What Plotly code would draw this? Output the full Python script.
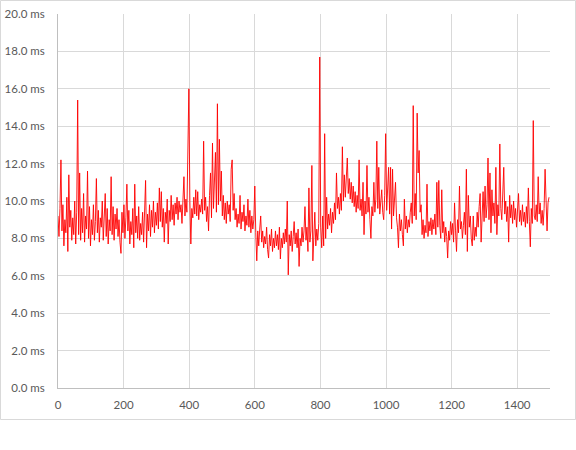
import plotly.graph_objects as go

# Sample index (every 3rd frame of 1500) and frame time values in ms
frame_index = list(range(0, 1500, 3))
frame_ms = [
    9.2, 8.1, 9.6, 12.2, 8.4, 9.8, 7.6, 9.0, 8.3, 10.2, 7.3, 11.4, 8.6, 9.5, 7.9, 9.1, 8.2, 10.0, 7.7, 9.4,
    15.4, 8.2, 11.5, 7.9, 9.6, 8.3, 10.4, 7.8, 9.2, 8.5, 11.6, 8.0, 9.7, 7.6, 9.0, 8.2, 9.8, 7.9, 8.9, 11.2,
    8.3, 9.5, 7.8, 9.1, 8.6, 10.0, 7.9, 9.3, 10.4, 8.1, 9.6, 7.7, 9.0, 8.4, 11.3, 8.2, 9.7, 7.9, 9.3, 8.5,
    9.6, 8.1, 9.0, 7.8, 7.2, 9.4, 8.3, 9.8, 8.0, 9.1, 10.9, 8.4, 9.5, 7.7, 8.9, 8.2, 9.6, 7.5, 10.9, 8.3,
    9.2, 8.0, 9.7, 7.9, 8.8, 8.2, 9.4, 7.8, 9.0, 11.1, 7.5, 9.3, 8.4, 9.8, 8.1, 9.5, 8.6, 10.0, 8.3, 9.4,
    8.7, 9.9, 8.5, 10.7, 8.9, 10.5, 8.6, 9.6, 7.8, 9.4, 8.8, 10.1, 7.7, 9.5, 8.9, 10.3, 9.0, 9.8, 8.7, 9.9,
    9.3, 10.2, 9.0, 10.0, 9.4, 9.8, 8.8, 10.4, 11.3, 9.2, 10.1, 9.4, 13.5, 16.0, 10.0, 7.7, 9.6, 9.1, 10.2, 9.3,
    10.6, 9.2, 10.5, 9.0, 9.8, 9.4, 10.1, 9.3, 13.2, 9.5, 10.2, 8.9, 9.7, 8.4, 10.3, 11.5, 9.1, 13.1, 9.6, 10.8,
    12.6, 9.4, 15.2, 9.8, 13.3, 10.0, 11.6, 9.2, 10.3, 9.0, 9.9, 8.8, 10.0, 9.3, 9.8, 8.9, 11.7, 12.2, 9.5, 10.4,
    9.0, 9.6, 8.6, 9.3, 8.8, 10.3, 8.5, 9.4, 8.9, 9.8, 8.4, 9.2, 8.7, 10.1, 8.6, 9.5, 8.3, 9.2, 8.5, 9.0,
    10.8, 8.3, 6.8, 8.4, 7.6, 8.5, 9.2, 7.8, 8.4, 7.5, 8.1, 7.7, 8.6, 7.4, 6.95, 8.2, 7.6, 8.5, 7.3, 8.0,
    7.5, 8.4, 7.6, 8.2, 7.4, 8.6, 6.9, 8.0, 7.5, 8.3, 7.7, 8.5, 7.8, 10.0, 6.05, 8.2, 7.6, 8.4, 7.3, 8.1,
    8.9, 7.7, 8.3, 7.5, 8.5, 6.5, 8.0, 7.6, 8.6, 7.8, 8.4, 9.7, 7.9, 8.6, 7.3, 10.7, 7.8, 8.4, 11.9, 6.8,
    8.1, 9.4, 7.6, 8.5, 7.9, 8.8, 17.7, 8.6, 7.5, 9.2, 7.6, 13.6, 8.0, 10.2, 8.5, 9.3, 8.7, 9.6, 8.3, 9.4,
    8.8, 9.9, 9.0, 11.5, 9.6, 10.2, 9.3, 10.4, 9.5, 12.9, 10.0, 11.4, 10.2, 11.8, 12.3, 10.4, 11.2, 10.1, 11.0, 9.9,
    10.8, 9.7, 10.5, 9.4, 10.3, 9.6, 12.2, 9.5, 10.1, 9.2, 11.0, 8.2, 10.0, 9.3, 11.9, 9.4, 10.2, 9.0, 8.0, 9.7,
    9.2, 11.0, 9.4, 10.1, 13.2, 9.6, 11.8, 9.3, 10.2, 10.6, 9.4, 9.0, 10.3, 13.6, 9.5, 10.4, 11.8, 9.3, 11.8, 8.5,
    11.7, 9.2, 10.0, 11.0, 9.1, 8.6, 7.5, 9.3, 8.4, 9.0, 8.2, 7.6, 10.1, 8.5, 9.2, 8.3, 9.0, 8.6, 9.4, 9.9,
    8.8, 15.1, 9.2, 10.4, 9.0, 14.7, 11.5, 12.7, 9.4, 9.8, 8.2, 9.0, 8.0, 8.7, 8.3, 10.9, 8.1, 8.9, 8.4, 9.1,
    8.2, 9.0, 8.5, 9.3, 8.2, 11.0, 8.6, 11.1, 8.7, 8.0, 10.6, 8.3, 8.9, 7.8, 8.6, 8.1, 6.95, 8.4, 7.9, 8.9,
    8.2, 8.8, 7.8, 9.9, 8.4, 7.3, 9.0, 8.3, 10.8, 8.5, 8.9, 8.0, 8.7, 9.4, 8.2, 11.7, 7.3, 10.3, 8.6, 9.2,
    8.0, 7.6, 9.2, 7.9, 8.6, 8.1, 9.4, 8.6, 9.7, 10.4, 7.8, 9.5, 10.5, 8.9, 10.8, 9.1, 9.8, 12.3, 9.0, 11.5,
    8.3, 10.6, 9.2, 9.9, 8.8, 11.8, 8.2, 9.8, 9.2, 13.05, 9.6, 9.0, 10.4, 11.8, 9.3, 10.0, 8.9, 9.7, 7.8, 10.3,
    9.1, 9.8, 8.8, 10.0, 9.0, 9.6, 8.6, 9.9, 10.4, 8.9, 9.5, 8.7, 9.8, 8.9, 9.4, 8.6, 9.7, 8.8, 10.7, 8.9,
    7.55, 9.6, 8.8, 14.3, 9.2, 9.0, 9.8, 8.9, 11.3, 9.3, 9.9, 8.8, 9.5, 8.7, 9.6, 11.7, 9.2, 8.4, 9.9, 10.2,
]

y_tick_values = [0, 2, 4, 6, 8, 10, 12, 14, 16, 18, 20]
y_tick_labels = [f"{v:.1f} ms" for v in y_tick_values]
x_tick_values = [0, 200, 400, 600, 800, 1000, 1200, 1400]

W, H = 576, 450
L, R, T, B = 58, 26, 14, 62
plot_w = W - L - R
plot_h = H - T - B

fig = go.Figure()
fig.add_trace(go.Scatter(
    x=frame_index, y=frame_ms, mode="lines",
    line=dict(color="#FF0000", width=0.9),
    hoverinfo="skip", showlegend=False,
))

font = dict(family="Lato, 'Open Sans', sans-serif", size=11.5, color="#595959")

fig.update_layout(
    width=W, height=H,
    margin=dict(l=L, r=R, t=T, b=B, pad=0, autoexpand=False),
    paper_bgcolor="white", plot_bgcolor="white",
    font=font,
    xaxis=dict(
        range=[0, 1500], tickvals=x_tick_values, automargin=False,
        showgrid=True, gridcolor="#d9d9d9", gridwidth=1,
        showline=True, linecolor="#bfbfbf", linewidth=1,
        ticks="", zeroline=False, ticklabelstandoff=6,
    ),
    yaxis=dict(
        range=[0, 20], tickvals=y_tick_values, ticktext=y_tick_labels,
        automargin=False,
        showgrid=True, gridcolor="#d9d9d9", gridwidth=1,
        showline=True, linecolor="#bfbfbf", linewidth=1,
        ticks="", zeroline=False, ticklabelstandoff=10,
    ),
    shapes=[dict(
        type="rect", xref="paper", yref="paper",
        x0=(0.5 - L) / plot_w, x1=(575.5 - L) / plot_w,
        y0=(H - B - 419.5) / plot_h, y1=(H - B - 0.5) / plot_h,
        line=dict(color="#d9d9d9", width=1), fillcolor="rgba(0,0,0,0)",
        layer="below",
    )],
)

fig.write_html("out.html", config={"displayModeBar": False},
               post_script="document.body.style.margin='0';")
